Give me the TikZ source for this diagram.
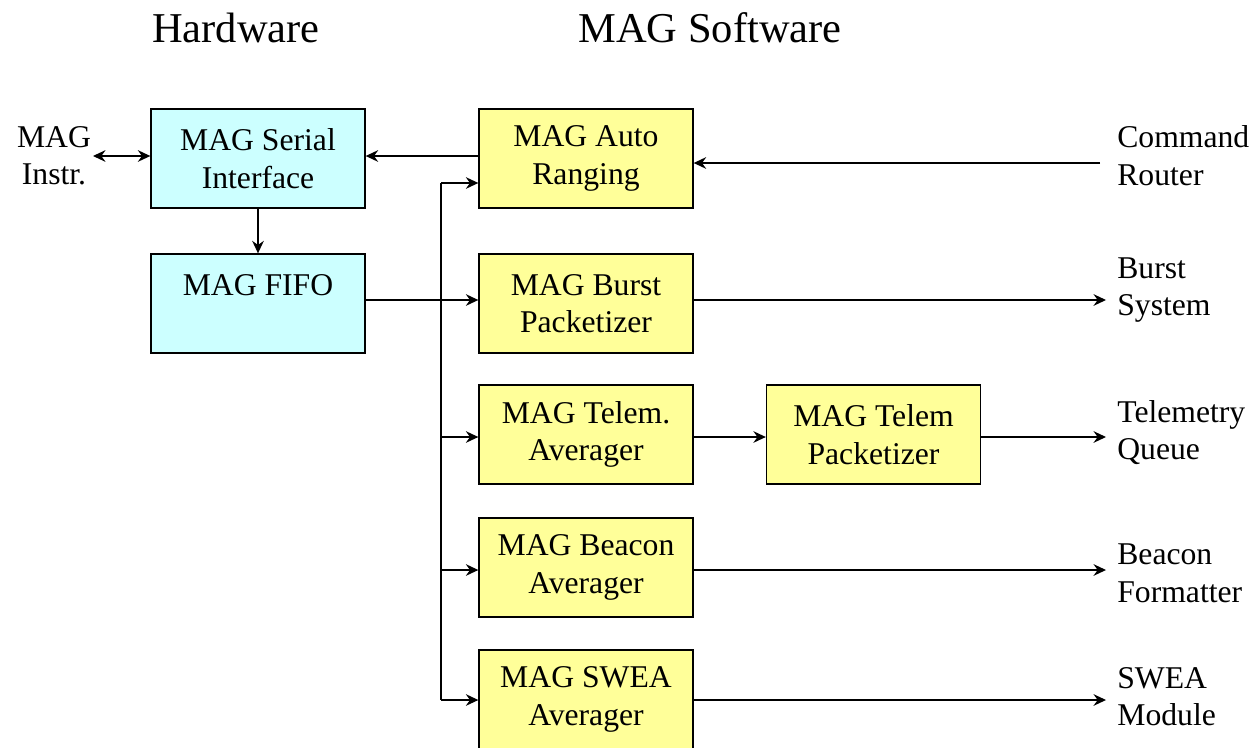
\documentclass[tikz,border=0pt]{standalone}
\usepackage{fontspec}
\setmainfont{Liberation Serif}
\usetikzlibrary{arrows.meta}
\definecolor{hwcyan}{HTML}{CCFFFF}
\definecolor{swyellow}{HTML}{FFFF99}
\begin{document}
\begin{tikzpicture}[x=0.6pt,y=-0.6pt,
  box/.style={draw, line width=0.8pt, minimum width=128.4pt, minimum height=59.4pt,
    align=center, inner sep=0pt, font=\fontsize{19}{22.5}\selectfont},
  hwbox/.style={box, fill=hwcyan},
  swbox/.style={box, fill=swyellow},
  extlabel/.style={align=left, anchor=west, inner sep=0pt, font=\fontsize{19}{22.5}\selectfont},
  title/.style={anchor=base, inner sep=0pt, font=\fontsize{25.5}{30}\selectfont},
  conn/.style={line width=0.8pt, -{Stealth[length=7.5pt, width=7pt, inset=2.5pt]}},
  biconn/.style={line width=0.8pt, {Stealth[length=7.5pt, width=7pt, inset=2.5pt]}-{Stealth[length=7.5pt, width=7pt, inset=2.5pt]}},
  wire/.style={line width=0.8pt},
]
\useasboundingbox (0,0) rectangle (1251,747);

% column titles
\node[title] (thw) at (236,42) {Hardware};
\node[title] (tsw) at (710,42) {MAG Software};

% hardware blocks
\node[hwbox] (serial) at (258,158.5) {MAG Serial\\Interface};
\node[hwbox] (fifo)   at (258,303.5) {MAG FIFO\\\mbox{}};

% software blocks
\node[swbox] (auto)   at (586,158.5) {MAG Auto\\Ranging};
\node[swbox] (burst)  at (586,303.5) {MAG Burst\\Packetizer};
\node[swbox] (tavg)   at (586,434.5) {MAG Telem.\\Averager};
\node[swbox] (tpkt)   at (873.5,434.5) {MAG Telem\\Packetizer};
\node[swbox] (beacon) at (586,567.5) {MAG Beacon\\Averager};
\node[swbox] (swea)   at (586,699.5) {MAG SWEA\\Averager};

% external endpoints
\node[align=center, inner sep=0pt, font=\fontsize{19}{22.5}\selectfont] (instr) at (54,155.5) {MAG\\Instr.};
\node[extlabel] (lcmd)   at (1117,155.5) {Command\\Router};
\node[extlabel] (lburst) at (1117,290)   {Burst\\System};
\node[extlabel] (ltlm)   at (1117,432.5) {Telemetry\\Queue};
\node[extlabel] (lbcn)   at (1117,573.5) {Beacon\\Formatter};
\node[extlabel] (lswea)  at (1117,696.5) {SWEA\\Module};

\coordinate (instrend) at (93,156);
\coordinate (cmd)   at (1100,163);
\coordinate (bsys)  at (1106,300);
\coordinate (tq)    at (1106,437);
\coordinate (bfmt)  at (1106,570);
\coordinate (smod)  at (1106,700);
\coordinate (bustop) at (441,183);
\coordinate (busbot) at (441,700);

% hardware links
\draw[biconn] (instrend) -- (instrend -| serial.west);
\draw[conn] (auto.west |- instrend) -- (serial.east |- instrend);
\draw[conn] (serial.south) -- (fifo.north);
\draw[conn] (fifo.east |- bsys) -- (burst.west |- bsys);

% distribution bus
\draw[wire] (bustop) -- (busbot);
\draw[conn] (bustop) -- (bustop -| auto.west);
\draw[conn] (bustop |- tq) -- (tavg.west |- tq);
\draw[conn] (bustop |- bfmt) -- (beacon.west |- bfmt);
\draw[conn] (busbot) -- (busbot -| swea.west);

% outputs
\draw[conn] (cmd) -- (cmd -| auto.east);
\draw[conn] (burst.east |- bsys) -- (bsys);
\draw[conn] (tavg.east |- tq) -- (tpkt.west |- tq);
\draw[conn] (tpkt.east |- tq) -- (tq);
\draw[conn] (beacon.east |- bfmt) -- (bfmt);
\draw[conn] (swea.east |- smod) -- (smod);
\end{tikzpicture}
\end{document}
